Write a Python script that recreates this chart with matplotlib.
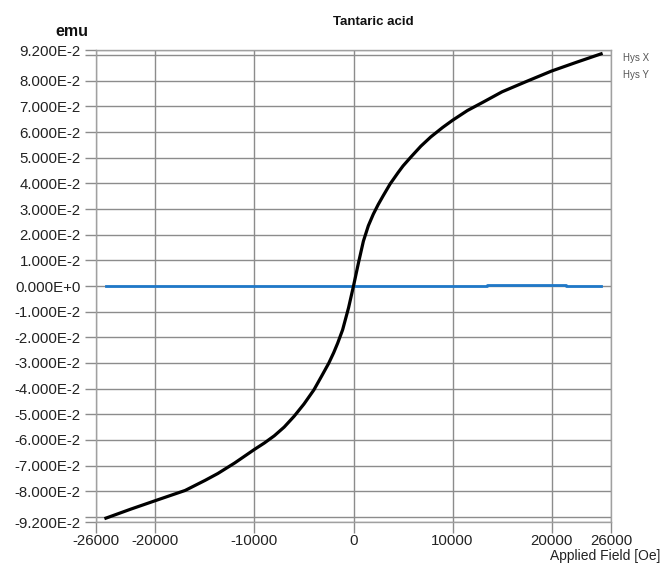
import matplotlib.pyplot as plt
import numpy as np

plt.rcParams['font.family'] = ['Liberation Sans', 'DejaVu Sans']

# ----------------------------------------------------------------------- DATA
# Hys X curve (applied field [Oe], moment [emu])
field_x = [-25000, -22500, -19800, -17000, -15000, -13700, -12000, -10000,
           -9000, -8000, -7000, -6000, -5000, -4000, -3200, -2500, -2000,
           -1600, -1100, -500, 0, 500, 1000, 1500, 2000, 2500, 3000, 3700,
           4500, 5000, 5800, 6800, 7800, 9000, 10000, 11500, 13100, 15000,
           17500, 20000, 22500, 25000]
moment_x = [-0.0905, -0.0870, -0.0834, -0.0797, -0.0758, -0.0731, -0.0690,
            -0.0637, -0.0612, -0.0584, -0.0550, -0.0508, -0.0460, -0.0405,
            -0.0350, -0.0301, -0.0260, -0.0223, -0.0171, -0.0085, 0.0, 0.0090,
            0.0175, 0.0235, 0.0280, 0.0318, 0.0352, 0.0398, 0.0442, 0.0468,
            0.0503, 0.0545, 0.0581, 0.0618, 0.0646, 0.0684, 0.0717, 0.0757,
            0.0798, 0.0838, 0.0872, 0.0905]

# Hys Y curve
field_y = [-25000, 0, 13500, 13500, 21500, 21500, 25000]
moment_y = [0.0, 0.0, 0.0, 0.0003, 0.0003, 0.0, 0.0]

yticks = [-0.092, -0.09, -0.08, -0.07, -0.06, -0.05, -0.04, -0.03, -0.02, -0.01,
          0.0, 0.01, 0.02, 0.03, 0.04, 0.05, 0.06, 0.07, 0.08, 0.09, 0.092]
ylabels = ['-9.200E-2', '', '-8.000E-2', '-7.000E-2', '-6.000E-2', '-5.000E-2',
           '-4.000E-2', '-3.000E-2', '-2.000E-2', '-1.000E-2', '0.000E+0',
           '1.000E-2', '2.000E-2', '3.000E-2', '4.000E-2', '5.000E-2',
           '6.000E-2', '7.000E-2', '8.000E-2', '', '9.200E-2']
xticks = [-26000, -20000, -10000, 0, 10000, 20000, 26000]
xlabels = ['-26000', '-20000', '-10000', '0', '10000', '20000', '26000']

# ----------------------------------------------------------------------- PLOT
fig = plt.figure(figsize=(6.63, 5.68), dpi=100)
ax = fig.add_axes([96/663, 1-522/568, (611-96)/663, (522-50)/568])

grid_c = '#8c8c8c'
ax.set_xlim(-26000, 26000)
ax.set_ylim(-0.092, 0.092)
ax.set_xticks(xticks)
ax.set_xticklabels(xlabels)
ax.set_yticks(yticks)
ax.set_yticklabels(ylabels)
ax.grid(True, color=grid_c, lw=1.0)
ax.tick_params(direction='out', length=8, width=1.0, color=grid_c,
               labelsize=10.8, labelcolor='#222222')
ax.tick_params(axis='y', pad=3)
ax.tick_params(axis='x', pad=0.5)
for s in ax.spines.values():
    s.set_color('#a0a0a0')
    s.set_linewidth(1.0)

ax.plot(field_y, moment_y, color='#1f78c8', lw=2.0, zorder=3)
ax.plot(field_x, moment_x, color='black', lw=2.3, zorder=4)

fig.text(373/663, 1-22/568, 'Tantaric acid', ha='center', va='center',
         fontsize=9.5, fontweight='bold', color='#111111')
fig.text(72/663, 1-31/568, 'emu', ha='center', va='center',
         fontsize=11.5, fontweight='bold', color='#111111')
fig.text(660/663, 1-556/568, 'Applied Field [Oe]', ha='right', va='center',
         fontsize=10, color='#222222')
fig.text(623/663, 1-58/568, 'Hys X', ha='left', va='center',
         fontsize=7, color='#555555')
fig.text(623/663, 1-75/568, 'Hys Y', ha='left', va='center',
         fontsize=7, color='#555555')

fig.savefig('out.png', dpi=100)
